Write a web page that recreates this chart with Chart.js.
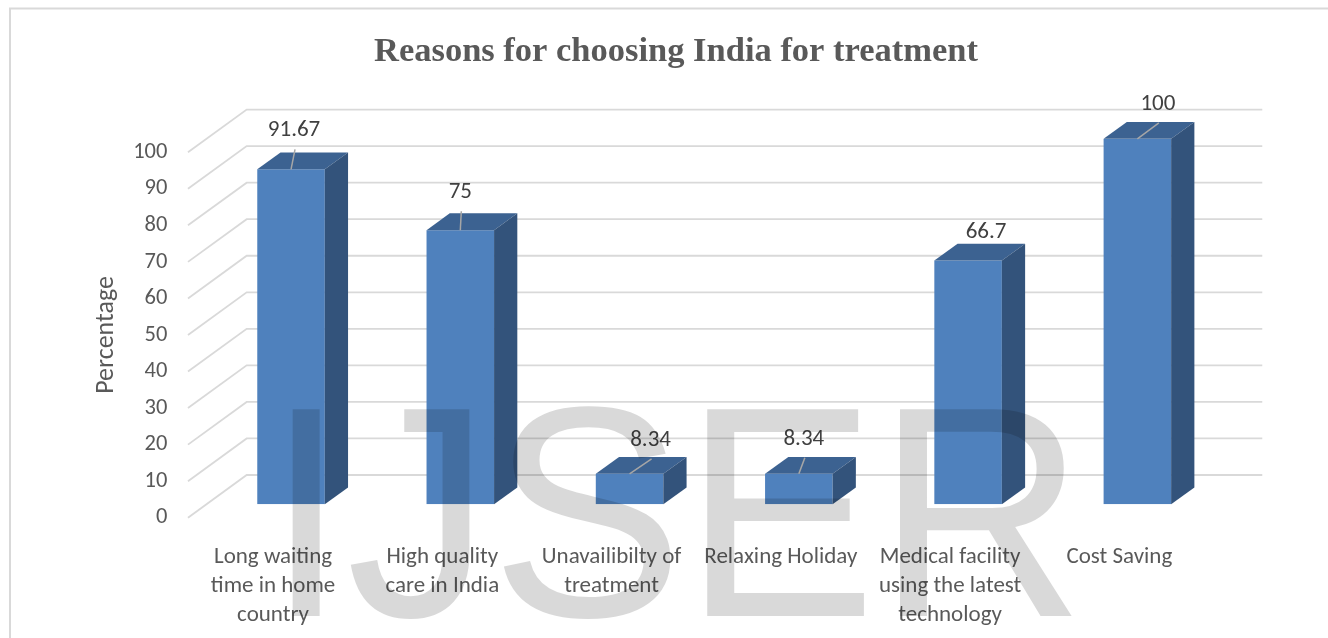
<!DOCTYPE html>
<html>
<head>
<meta charset="utf-8">
<script src="https://cdn.jsdelivr.net/npm/chart.js@4.4.1/dist/chart.umd.min.js"></script>
<style>
  html, body { margin: 0; padding: 0; background: #ffffff; }
  #wrap { width: 1328px; height: 638px; position: relative; }
</style>
</head>
<body>
<div id="wrap"><canvas id="c" width="1328" height="638"></canvas></div>
<script>
// ---- data ----
const categories = [
  ["Long waiting", "time in home", "country"],
  ["High quality", "care in India"],
  ["Unavailibilty of", "treatment"],
  ["Relaxing Holiday"],
  ["Medical facility", "using the latest", "technology"],
  ["Cost Saving"]
];
const values = [91.67, 75, 8.34, 8.34, 66.7, 100];
const valueLabels = ["91.67", "75", "8.34", "8.34", "66.7", "100"];
const yTickMin = 0;
const yTickMax = 100;
const yTickStep = 10;
const chartTitle = "Reasons for choosing India for treatment";
const yAxisTitle = "Percentage";
const watermark = "IJSER";

// ---- 3D look configuration ----
const DEPTH_X = 58.7, DEPTH_Y = -42.7;   // full floor depth vector
const FRONT_FRAC = 0.314;                // bar front plane depth fraction
const BAR_FRAC = 0.396;                  // bar depth fraction
const labelOffsets = [[3, -39], [0, -38], [21, -34], [5, -35], [18, -28], [20.5, -35]];
const showLeader = [true, true, true, true, false, true];

const COL_FRONT = '#4F81BD', COL_TOP = '#3C6291', COL_SIDE = '#33537B';
const GRID = '#d9d9d9';
const TEXT = '#595959';
const FONT = 'Carlito, Calibri, Lato, sans-serif';

const threeD = {
  id: 'threeD',
  beforeDraw(chart) {
    const ctx = chart.ctx;
    ctx.save();
    ctx.fillStyle = '#ffffff';
    ctx.fillRect(0, 0, chart.width, chart.height);
    ctx.strokeStyle = '#d9d9d9';
    ctx.lineWidth = 2;
    ctx.beginPath();
    ctx.moveTo(10, chart.height);
    ctx.lineTo(10, 8.5);
    ctx.lineTo(chart.width, 8.5);
    ctx.stroke();
    // title
    ctx.fillStyle = TEXT;
    ctx.font = 'bold 34.5px "Liberation Serif", "Times New Roman", serif';
    ctx.textAlign = 'center';
    ctx.textBaseline = 'alphabetic';
    ctx.fillText(chartTitle, 676, 61);
    ctx.restore();
  },
  beforeDatasetsDraw(chart) {
    const ctx = chart.ctx;
    const ys = chart.scales.y;
    const { left, right } = chart.chartArea;
    ctx.save();
    ctx.strokeStyle = GRID;
    ctx.lineWidth = 1.8;
    ctx.beginPath();
    ys.ticks.forEach(t => {
      const yb = ys.getPixelForValue(t.value);
      const fx = left - FRONT_FRAC * DEPTH_X, fy = yb - FRONT_FRAC * DEPTH_Y;
      const bx = left + (1 - FRONT_FRAC) * DEPTH_X, by = yb + (1 - FRONT_FRAC) * DEPTH_Y;
      const ex = right + (1 - FRONT_FRAC) * DEPTH_X;
      ctx.moveTo(fx, fy);
      ctx.lineTo(bx, by);
      ctx.lineTo(ex, by);
    });
    ctx.stroke();
    ctx.restore();
  },
  afterDatasetsDraw(chart) {
    const ctx = chart.ctx;
    const meta = chart.getDatasetMeta(0);
    const ddx = BAR_FRAC * DEPTH_X, ddy = BAR_FRAC * DEPTH_Y;
    ctx.save();
    meta.data.forEach((bar) => {
      const { x, y, width, base } = bar.getProps(['x', 'y', 'width', 'base'], true);
      const l = x - width / 2, r = x + width / 2;
      ctx.fillStyle = COL_TOP;
      ctx.beginPath();
      ctx.moveTo(l, y); ctx.lineTo(r, y); ctx.lineTo(r + ddx, y + ddy); ctx.lineTo(l + ddx, y + ddy);
      ctx.closePath(); ctx.fill();
      ctx.fillStyle = COL_SIDE;
      ctx.beginPath();
      ctx.moveTo(r, y); ctx.lineTo(r + ddx, y + ddy); ctx.lineTo(r + ddx, base + ddy); ctx.lineTo(r, base);
      ctx.closePath(); ctx.fill();
    });
    // data labels
    ctx.font = '23px ' + FONT;
    ctx.textAlign = 'center';
    ctx.textBaseline = 'middle';
    meta.data.forEach((bar, i) => {
      const { x, y } = bar.getProps(['x', 'y'], true);
      const lx = x + labelOffsets[i][0], ly = y + labelOffsets[i][1];
      if (showLeader[i]) {
        ctx.strokeStyle = '#a6a6a6';
        ctx.lineWidth = 1.5;
        ctx.beginPath();
        ctx.moveTo(x, y);
        ctx.lineTo(lx + 1, ly + 19);
        ctx.stroke();
      }
      ctx.fillStyle = '#404040';
      ctx.fillText(valueLabels[i], lx, ly);
    });
    ctx.restore();
  },
  afterDraw(chart) {
    const ctx = chart.ctx;
    ctx.save();
    ctx.translate(106, 335);
    ctx.rotate(-Math.PI / 2);
    ctx.font = '26px ' + FONT;
    ctx.fillStyle = TEXT;
    ctx.textAlign = 'center';
    ctx.textBaseline = 'middle';
    ctx.fillText(yAxisTitle, 0, 0);
    ctx.restore();

    ctx.save();
    ctx.globalCompositeOperation = 'multiply';
    ctx.fillStyle = '#d9d9d9';
    ctx.font = '289px "Liberation Sans", Arial, sans-serif';
    ctx.textAlign = 'left';
    ctx.textBaseline = 'alphabetic';
    ctx.translate(266, 616);
    ctx.scale(1, 1.04);
    ctx.fillText(watermark, 0, 0);
    ctx.restore();
  }
};

new Chart(document.getElementById('c'), {
  type: 'bar',
  data: {
    labels: categories,
    datasets: [{
      data: values,
      backgroundColor: COL_FRONT,
      borderWidth: 0,
      barPercentage: 0.399,
      categoryPercentage: 1.0
    }]
  },
  plugins: [threeD],
  options: {
    responsive: false,
    animation: false,
    events: [],
    layout: { padding: { left: 0, right: 106, top: 138.85, bottom: 0 } },
    plugins: {
      legend: { display: false },
      tooltip: { enabled: false },
      title: { display: false }
    },
    scales: {
      x: {
        grid: { display: false },
        border: { display: false },
        ticks: {
          color: TEXT,
          font: { family: FONT, size: 23, lineHeight: '28.7px' },
          padding: 31,
          labelOffset: -18,
          maxRotation: 0,
          minRotation: 0,
          autoSkip: false
        },
        afterFit(s) { s.height = 133.7; }
      },
      y: {
        min: yTickMin,
        max: yTickMax,
        grid: { display: false, drawTicks: false },
        border: { display: false },
        ticks: {
          stepSize: yTickStep,
          color: TEXT,
          font: { family: FONT, size: 22.5 },
          padding: 39,
          labelOffset: 13.4
        },
        afterFit(s) { s.width = 206.4; }
      }
    }
  }
});
</script>
</body>
</html>
